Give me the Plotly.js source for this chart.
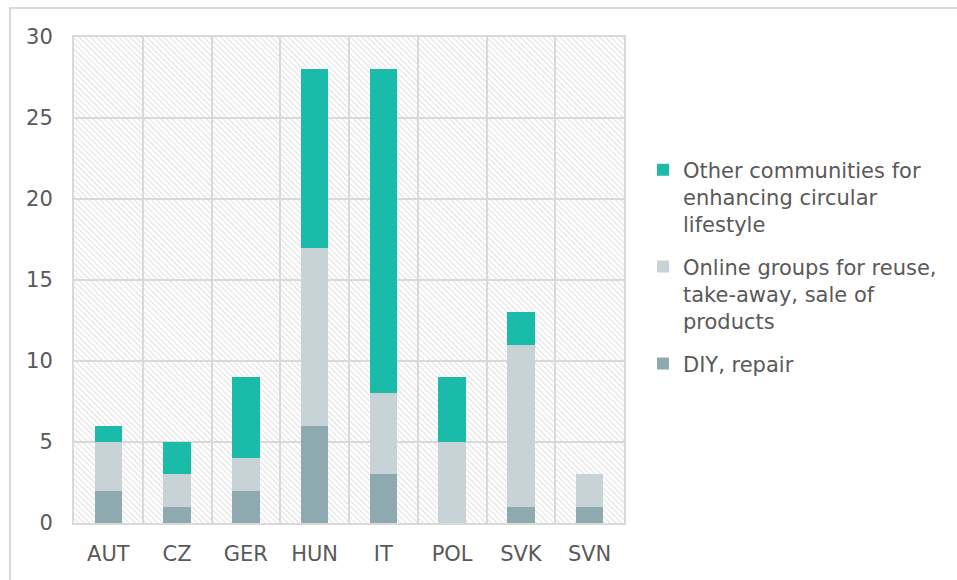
<!DOCTYPE html>
<html>
<head>
<meta charset="utf-8">
<script src="https://cdn.plot.ly/plotly-3.0.1.min.js"></script>
<style>html,body{margin:0;padding:0;background:#fff;}#chart{width:957px;height:580px;}</style>
</head>
<body>
<div id="chart"></div>
<script>
const categories = ["AUT", "CZ", "GER", "HUN", "IT", "POL", "SVK", "SVN"];
const diyRepair = [2, 1, 2, 6, 3, 0, 1, 1];
const onlineGroups = [3, 2, 2, 11, 5, 5, 10, 2];
const otherCommunities = [1, 2, 5, 11, 20, 4, 2, 0];
const seriesNames = [
  "DIY, repair",
  "Online groups for reuse,<br>take-away, sale of<br>products",
  "Other communities for<br>enhancing circular<br>lifestyle"
];
const yTicks = [0, 5, 10, 15, 20, 25, 30];

const colors = ["#8ea9af", "#c8d3d8", "#1abba9"];
const textColor = "#595959";
const gridColor = "#d9d9d9";

const hatchSvg =
  '<svg xmlns="http://www.w3.org/2000/svg" width="550" height="486" viewBox="0 0 550 486" preserveAspectRatio="none">' +
  '<defs><pattern id="h" patternUnits="userSpaceOnUse" width="4" height="4" patternTransform="rotate(45)">' +
  '<line x1="0" y1="0" x2="4" y2="0" stroke="#d3d3d3" stroke-width="1.4"/></pattern></defs>' +
  '<rect width="550" height="486" fill="url(#h)"/></svg>';
const hatchUri = "data:image/svg+xml;charset=utf-8," + encodeURIComponent(hatchSvg);

const series = [diyRepair, onlineGroups, otherCommunities];
const traces = series.map((vals, i) => ({
  type: "bar",
  x: categories,
  y: vals,
  name: seriesNames[i],
  legendgroup: "g" + i,
  legendrank: 3 - i,
  marker: {color: colors[i], line: {width: 0}},
  hoverinfo: "x+y+name"
}));

const layout = {
  width: 957,
  height: 580,
  margin: {l: 74, r: 333, t: 37, b: 57},
  paper_bgcolor: "#ffffff",
  plot_bgcolor: "rgba(0,0,0,0)",
  barmode: "stack",
  bargap: 0.6,
  font: {family: "DejaVu Sans, Verdana, sans-serif", size: 21, color: textColor},
  showlegend: true,
  legend: {
    x: 1.0345, xanchor: "left",
    y: 0.7685, yanchor: "top",
    traceorder: "grouped",
    tracegroupgap: 12,
    valign: "top",
    font: {size: 21, color: textColor},
    bgcolor: "rgba(0,0,0,0)",
    itemwidth: 30
  },
  xaxis: {
    type: "category",
    range: [-0.5, 7.5],
    tickson: "boundaries",
    showgrid: true,
    gridcolor: gridColor,
    gridwidth: 2,
    showline: true,
    mirror: true,
    linecolor: gridColor,
    linewidth: 2,
    ticks: "",
    ticklabelstandoff: 11,
    tickfont: {size: 21, color: textColor},
    zeroline: false,
    fixedrange: true
  },
  yaxis: {
    range: [0, 30],
    tickvals: yTicks,
    ticktext: yTicks.map(String),
    showgrid: true,
    gridcolor: gridColor,
    gridwidth: 2,
    showline: true,
    mirror: true,
    linecolor: gridColor,
    linewidth: 2,
    ticks: "",
    ticklabelstandoff: 15,
    tickfont: {size: 21, color: textColor},
    zeroline: false,
    fixedrange: true
  },
  images: [{
    source: hatchUri,
    xref: "paper", yref: "paper",
    x: 0, y: 1, sizex: 1, sizey: 1,
    xanchor: "left", yanchor: "top",
    sizing: "stretch",
    layer: "below"
  }],
  shapes: [{
    type: "rect",
    xref: "paper", yref: "paper",
    x0: -0.1164, x1: 2, y0: -1, y1: 1.0597,
    line: {color: gridColor, width: 2},
    fillcolor: "rgba(0,0,0,0)",
    layer: "below"
  }]
};

Plotly.newPlot("chart", traces, layout, {displayModeBar: false, staticPlot: true});
</script>
</body>
</html>
